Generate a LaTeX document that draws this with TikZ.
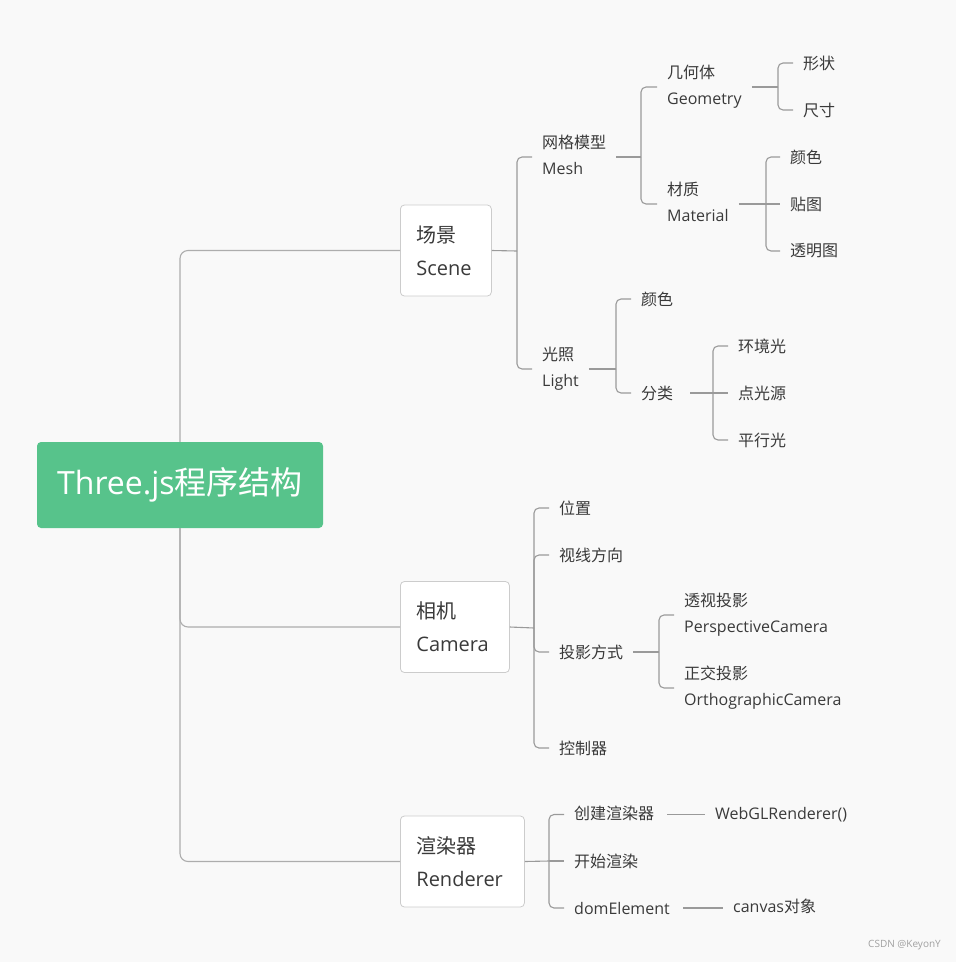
\documentclass[tikz,border=0pt]{standalone}
\usepackage{fontspec}
\setmainfont{Open Sans}
\newfontfamily\cjk{Noto Sans CJK SC}
\definecolor{bg}{HTML}{F9F9F9}
\definecolor{rootgreen}{HTML}{57C38B}
\definecolor{txt}{HTML}{3A3A3A}
\definecolor{ln}{HTML}{9A9A9A}
\definecolor{trunkc}{HTML}{ADADAD}
\definecolor{boxb}{HTML}{CCCCCC}
\definecolor{wmc}{HTML}{A0A0A0}
\begin{document}
\begin{tikzpicture}[x=1pt,y=-1pt,
  lbl/.style={anchor=west, inner xsep=10pt, inner ysep=1pt, align=left, text=txt,
    font=\fontsize{16}{26}\selectfont},
  lbltwo/.style={lbl, text depth=4pt},
  box/.style={draw=boxb, fill=white, rounded corners=4pt, line width=0.8pt,
    inner xsep=16pt, align=left, text=txt, font=\fontsize{20}{33}\selectfont,
    minimum height=91pt, anchor=west},
  conn/.style={draw=ln, line width=1.1pt, rounded corners=5pt},
  trunk/.style={draw=trunkc, line width=1.1pt, rounded corners=8pt},
]
\fill[bg] (0,0) rectangle (956,962);
\useasboundingbox (0,0) rectangle (956,962);

% root
\node[fill=rootgreen, rounded corners=4pt, minimum width=286pt, minimum height=86pt,
  text=white, font=\fontsize{32}{38}\selectfont, inner sep=0pt] (root) at (180,485)
  {\raisebox{-3pt}{Three.js{\cjk 程序结构}}};

% first level boxes
\node[box, text width=59pt] (scene) at (400,250.5) {{\cjk 场景}\\Scene};
\node[box, text width=77pt] (camera) at (400,627) {{\cjk 相机}\\Camera};
\node[box, text width=92pt] (renderer) at (400,861.5) {{\cjk 渲染器}\\Renderer};

\draw[trunk] (root.north) |- (scene.west);
\draw[trunk] (root.south) |- (camera.west);
\draw[trunk] (root.south) |- (renderer.west);

% Scene subtree
\node[lbltwo] (mesh) at (532,157) {{\cjk 网格模型}\\Mesh};
\node[lbltwo] (light) at (532,369) {{\cjk 光照}\\Light};
\node[lbltwo] (geom) at (657,87) {{\cjk 几何体}\\Geometry};
\node[lbltwo] (mat) at (657,204) {{\cjk 材质}\\Material};
\node[lbl] (shape) at (793,63) {\cjk 形状};
\node[lbl] (size) at (793,110) {\cjk 尺寸};
\node[lbl] (mcolor) at (780,157) {\cjk 颜色};
\node[lbl] (tex) at (780,204) {\cjk 贴图};
\node[lbl] (trans) at (780,251) {\cjk 透明图};
\node[lbl] (lcolor) at (631,299) {\cjk 颜色};
\node[lbl] (lcat) at (631,393) {\cjk 分类};
\node[lbl] (amb) at (728,346) {\cjk 环境光};
\node[lbl] (pt) at (728,393) {\cjk 点光源};
\node[lbl] (par) at (728,440) {\cjk 平行光};

\coordinate (sj) at (517,251);
\draw[conn] (scene.east) -- (sj);
\draw[conn] (sj) |- (mesh.west);
\draw[conn] (sj) |- (light.west);

\coordinate (mj) at (641,157);
\draw[conn] (mesh.east) -- (mj);
\draw[conn] (mj) |- (geom.west);
\draw[conn] (mj) |- (mat.west);

\coordinate (gj) at (778,87);
\draw[conn] (geom.east) -- (gj);
\draw[conn] (gj) |- (shape.west);
\draw[conn] (gj) |- (size.west);

\coordinate (tj) at (766,204);
\draw[conn] (mat.east) -- (tj);
\draw[conn] (tj) |- (mcolor.west);
\draw[conn] (tj) -- (tex.west);
\draw[conn] (tj) |- (trans.west);

\coordinate (lj) at (616,369);
\draw[conn] (light.east) -- (lj);
\draw[conn] (lj) |- (lcolor.west);
\draw[conn] (lj) |- (lcat.west);

\coordinate (cj) at (713,393);
\draw[conn] ([xshift=7pt]lcat.east) -- (cj);
\draw[conn] (cj) |- (amb.west);
\draw[conn] (cj) -- (pt.west);
\draw[conn] (cj) |- (par.west);

% Camera subtree
\node[lbl] (pos) at (549,508) {\cjk 位置};
\node[lbl] (view) at (549,555) {\cjk 视线方向};
\node[lbl] (proj) at (549,652) {\cjk 投影方式};
\node[lbl] (ctrl) at (549,748) {\cjk 控制器};
\node[lbltwo] (persp) at (674,615) {{\cjk 透视投影}\\PerspectiveCamera};
\node[lbltwo] (ortho) at (674,688) {{\cjk 正交投影}\\OrthographicCamera};

\coordinate (kj) at (534,628);
\draw[conn] (camera.east) -- (kj);
\draw[conn] (kj) |- (pos.west);
\draw[conn] (kj) |- (view.west);
\draw[conn] (kj) |- (proj.west);
\draw[conn] (kj) |- (ctrl.west);

\coordinate (pj) at (659,652);
\draw[conn] (proj.east) -- (pj);
\draw[conn] (pj) |- (persp.west);
\draw[conn] (pj) |- (ortho.west);

% Renderer subtree
\node[lbl, text height=12pt, text depth=3pt] (create) at (564,814.5) {\cjk 创建渲染器};
\node[lbl] (start) at (564,861) {\cjk 开始渲染};
\node[lbl] (dom) at (564,908) {domElement};
\node[lbl, text height=12pt, text depth=3pt] (webgl) at (705,814.5) {WebGLRenderer()};
\node[lbl, text height=12pt, text depth=3pt] (canvas) at (723,908) {canvas{\cjk 对象}};

\coordinate (rj) at (549,861);
\draw[conn] (renderer.east) -- (rj);
\draw[conn] (rj) |- (create.west);
\draw[conn] (rj) -- (start.west);
\draw[conn] (rj) |- (dom.west);

\draw[conn] ([xshift=3pt]create.east) -- (webgl.west);
\draw[conn] ([xshift=3pt]dom.east) -- (dom.east -| canvas.west);

% watermark
\node[anchor=east, inner sep=0pt, text=wmc, font=\fontsize{10}{12}\selectfont] (wm) at (941,945) {CSDN @KeyonY};
\end{tikzpicture}
\end{document}
